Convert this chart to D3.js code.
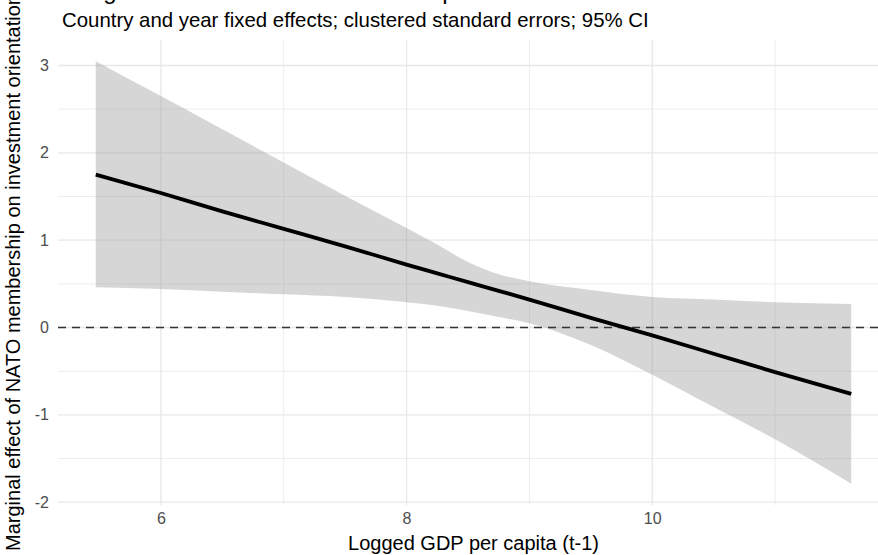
<!DOCTYPE html>
<html>
<head>
<meta charset="utf-8">
<script src="https://cdn.jsdelivr.net/npm/d3@7"></script>
<style>
  body { margin: 0; background: #fff; }
  svg { display: block; }
</style>
</head>
<body>
<div id="chart"></div>
<script>
// Logged GDP per capita (t-1) values where the estimate was read off
var gdp = [5.47, 6, 6.5, 7, 7.5, 8, 8.25, 8.5, 8.75, 9, 9.5, 10, 10.5, 11, 11.62];
// marginal effect and 95% CI bounds
var effect = [1.75, 1.54, 1.33, 1.13, 0.93, 0.72, 0.62, 0.52, 0.42, 0.32, 0.11, -0.09, -0.30, -0.51, -0.76];
var upper = [3.05, 2.65, 2.27, 1.89, 1.51, 1.14, 0.95, 0.75, 0.61, 0.53, 0.43, 0.35, 0.32, 0.29, 0.27];
var lower = [0.46, 0.44, 0.41, 0.38, 0.35, 0.29, 0.25, 0.19, 0.12, 0.05, -0.20, -0.54, -0.91, -1.28, -1.79];

var xMajor = [6, 8, 10];
var xMinor = [7, 9, 11];
var yMajor = [-2, -1, 0, 1, 2, 3];
var yMinor = [-1.5, -0.5, 0.5, 1.5, 2.5];

var titleText = "Marginal effect of NATO membership on investment orientation";
var subtitleText = "Country and year fixed effects; clustered standard errors; 95% CI";
var xTitle = "Logged GDP per capita (t-1)";
var yTitle = "Marginal effect of NATO membership on investment orientation";

var W = 878, H = 555;
var FONT = "'Liberation Sans', Arial, Helvetica, sans-serif";
var panel = { left: 58, right: 889, top: 40, bottom: 505 };

var svg = d3.select("#chart").append("svg")
    .attr("width", W)
    .attr("height", H);

//ggplot style 5% expansion
function expand(ext) {
    var pad = (ext[1] - ext[0]) * 0.05;
    return [ext[0] - pad, ext[1] + pad];
}

//plain hyphen minus like R prints it
function fmt(d) { return String(d); }

var x = d3.scaleLinear()
    .domain(expand(d3.extent(gdp)))
    .range([panel.left, panel.right]);

var y = d3.scaleLinear()
    .domain(expand([d3.min(lower), d3.max(upper)]))
    .range([panel.bottom, panel.top]);

var rows = gdp.map(function (g, i) {
    return { x: g, fit: effect[i], hi: upper[i], lo: lower[i] };
});

/************ grid ************/
var grid = svg.append("g").attr("class", "grid");

grid.selectAll(".yminor").data(yMinor).enter().append("line")
    .attr("x1", panel.left).attr("x2", panel.right)
    .attr("y1", function (d) { return y(d); })
    .attr("y2", function (d) { return y(d); })
    .attr("stroke", "#ededed").attr("stroke-width", 1);

grid.selectAll(".xminor").data(xMinor).enter().append("line")
    .attr("y1", panel.top).attr("y2", panel.bottom)
    .attr("x1", function (d) { return x(d); })
    .attr("x2", function (d) { return x(d); })
    .attr("stroke", "#ededed").attr("stroke-width", 1);

grid.selectAll(".ymajor").data(yMajor).enter().append("line")
    .attr("x1", panel.left).attr("x2", panel.right)
    .attr("y1", function (d) { return y(d); })
    .attr("y2", function (d) { return y(d); })
    .attr("stroke", "#e8e8e8").attr("stroke-width", 1.3);

grid.selectAll(".xmajor").data(xMajor).enter().append("line")
    .attr("y1", panel.top).attr("y2", panel.bottom)
    .attr("x1", function (d) { return x(d); })
    .attr("x2", function (d) { return x(d); })
    .attr("stroke", "#e8e8e8").attr("stroke-width", 1.3);

/************ ribbon + line ************/
var area = d3.area()
    .x(function (d) { return x(d.x); })
    .y0(function (d) { return y(d.lo); })
    .y1(function (d) { return y(d.hi); })
    .curve(d3.curveMonotoneX);

svg.append("path")
    .datum(rows)
    .attr("d", area)
    .attr("fill", "#999999")
    .attr("fill-opacity", 0.4);

svg.append("line")
    .attr("x1", panel.left).attr("x2", panel.right)
    .attr("y1", y(0)).attr("y2", y(0))
    .attr("stroke", "#333333")
    .attr("stroke-width", 1.7)
    .attr("stroke-dasharray", "8,6");

var line = d3.line()
    .x(function (d) { return x(d.x); })
    .y(function (d) { return y(d.fit); })
    .curve(d3.curveMonotoneX);

svg.append("path")
    .datum(rows)
    .attr("d", line)
    .attr("fill", "none")
    .attr("stroke", "#000")
    .attr("stroke-width", 3.8);

/************ axes (labels only, theme_minimal) ************/
var xAxis = svg.append("g")
    .attr("transform", "translate(0," + panel.bottom + ")")
    .call(d3.axisBottom(x).tickValues(xMajor).tickSize(0).tickPadding(8).tickFormat(fmt));
xAxis.select(".domain").remove();
xAxis.selectAll("text")
    .attr("fill", "#4d4d4d")
    .style("font-family", FONT)
    .style("font-size", "16px");

var yAxis = svg.append("g")
    .attr("transform", "translate(" + panel.left + ",0)")
    .call(d3.axisLeft(y).tickValues(yMajor).tickSize(0).tickPadding(9).tickFormat(fmt));
yAxis.select(".domain").remove();
yAxis.selectAll("text")
    .attr("fill", "#4d4d4d")
    .style("font-family", FONT)
    .style("font-size", "16px");

/************ titles ************/
svg.append("text")
    .attr("x", (panel.left + panel.right) / 2)
    .attr("y", 550)
    .attr("text-anchor", "middle")
    .attr("font-family", FONT)
    .attr("font-size", 20)
    .attr("fill", "#000")
    .text(xTitle);

svg.append("text")
    .attr("transform", "translate(20," + ((panel.top + panel.bottom) / 2) + ") rotate(-90)")
    .attr("text-anchor", "middle")
    .attr("font-family", FONT)
    .attr("font-size", 20)
    .attr("fill", "#000")
    .text(yTitle);

svg.append("text")
    .attr("x", 62)
    .attr("y", -1)
    .attr("font-family", FONT)
    .attr("font-size", 24)
    .attr("fill", "#000")
    .text(titleText);

svg.append("text")
    .attr("x", 62)
    .attr("y", 27)
    .attr("font-family", FONT)
    .attr("font-size", 20.4)
    .attr("fill", "#000")
    .text(subtitleText);
</script>
</body>
</html>
